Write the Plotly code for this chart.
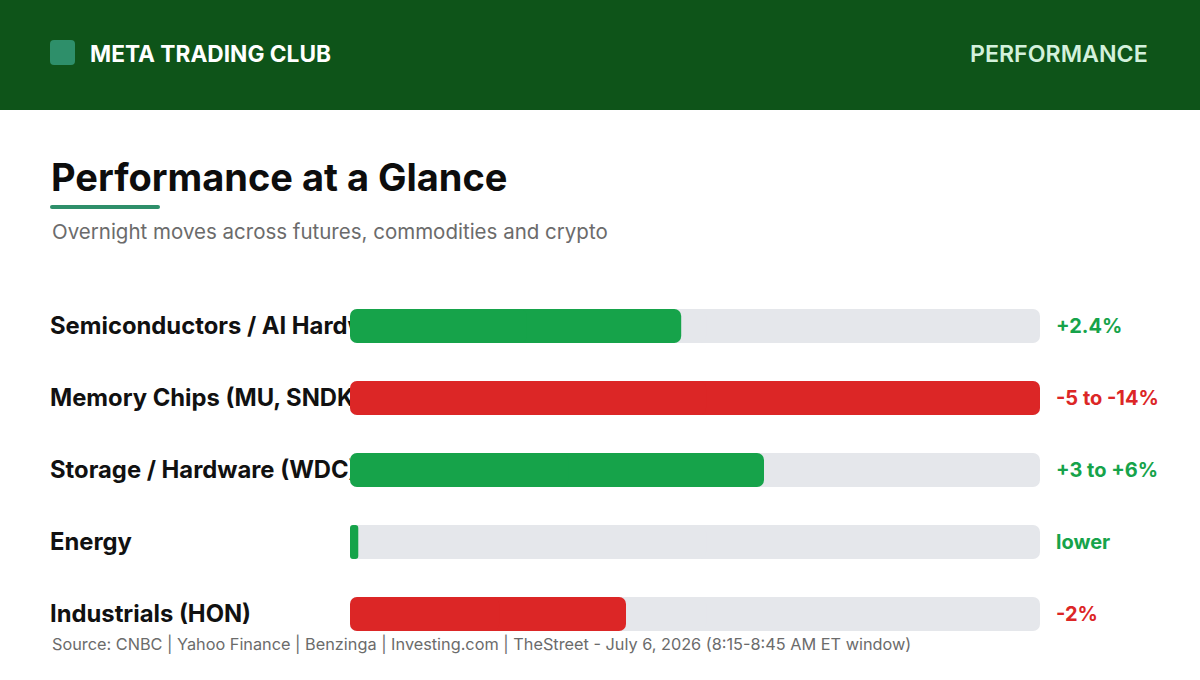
import plotly.graph_objects as go

W, H = 1200, 680

categories = ["Semiconductors / AI Hardware", "Memory Chips (MU, SNDK)", "Storage / Hardware (WDC)", "Energy", "Industrials (HON)"]
magnitudes = [2.4, 5.0, 3.0, 0.06, 2.0]   # bar fill, capped at scale max
scale_max = 5.0
value_labels = ["+2.4%", "-5 to -14%", "+3 to +6%", "lower", "-2%"]
directions = ["up", "down", "up", "up", "down"]

GREEN = "#16A34A"
RED = "#DC2626"
TRACK = "#E5E7EB"
HEADER = "#0E5419"
ACCENT = "#2E8F6A"
FONT = "Inter"

colors = [GREEN if d == "up" else RED for d in directions]
rows = list(range(len(categories)))
text_rows = [r + 0.03 for r in rows]


def px(x):
    return x / W


def py(y):
    return 1 - y / H


def rrect(x0, y0, x1, y1, r):
    pts = [
        f"M{px(x0 + r)},{py(y0)}",
        f"L{px(x1 - r)},{py(y0)}",
        f"Q{px(x1)},{py(y0)} {px(x1)},{py(y0 + r)}",
        f"L{px(x1)},{py(y1 - r)}",
        f"Q{px(x1)},{py(y1)} {px(x1 - r)},{py(y1)}",
        f"L{px(x0 + r)},{py(y1)}",
        f"Q{px(x0)},{py(y1)} {px(x0)},{py(y1 - r)}",
        f"L{px(x0)},{py(y0 + r)}",
        f"Q{px(x0)},{py(y0)} {px(x0 + r)},{py(y0)}",
        "Z",
    ]
    return " ".join(pts)


ydom = [py(650), py(290)]
bar_w = 34 / 72

fig = go.Figure()

# Labels subplot (drawn first, so the bars cover long labels)
fig.add_trace(go.Scatter(
    x=[50] * len(categories), y=text_rows, text=categories, mode="text",
    textposition="middle right",
    textfont=dict(family=FONT, size=23.8, color="#111111", weight=700),
    xaxis="x", yaxis="y", hoverinfo="skip", cliponaxis=False, showlegend=False,
))
fig.add_trace(go.Scatter(
    x=[1056] * len(categories), y=text_rows, text=value_labels, mode="text",
    textposition="middle right",
    textfont=dict(family=FONT, size=20, color=colors, weight=700),
    xaxis="x", yaxis="y", hoverinfo="skip", cliponaxis=False, showlegend=False,
))


def rounded_bar(values, color):
    # two overlapping pieces, one rounded at each end, so both ends of the bar are rounded
    ov = [min(0.08, v / 4) for v in values]
    fig.add_trace(go.Bar(
        x=[v / 2 + d for v, d in zip(values, ov)], base=[v / 2 - d for v, d in zip(values, ov)],
        y=rows, orientation="h", width=bar_w,
        marker=dict(color=color, cornerradius=7, line=dict(width=0)),
        xaxis="x2", yaxis="y2", hoverinfo="skip", showlegend=False,
    ))
    fig.add_trace(go.Bar(
        x=[-(v / 2 + d) for v, d in zip(values, ov)], base=[v / 2 + d for v, d in zip(values, ov)],
        y=rows, orientation="h", width=bar_w,
        marker=dict(color=color, cornerradius=7, line=dict(width=0)),
        xaxis="x2", yaxis="y2", hoverinfo="skip", showlegend=False,
    ))


rounded_bar([scale_max] * len(categories), TRACK)
rounded_bar(magnitudes, colors)

hidden = dict(showgrid=False, zeroline=False, showticklabels=False, ticks="", showline=False, fixedrange=True)

shapes = [
    dict(type="rect", xref="paper", yref="paper", x0=0, x1=1, y0=py(110), y1=1,
         fillcolor=HEADER, line=dict(width=0), layer="below"),
    dict(type="path", xref="paper", yref="paper", path=rrect(50, 40, 75, 65, 4),
         fillcolor=ACCENT, line=dict(width=0), layer="below"),
    dict(type="path", xref="paper", yref="paper", path=rrect(50, 205, 160, 209, 2),
         fillcolor=ACCENT, line=dict(width=0), layer="below"),
]

annotations = [
    dict(text="META TRADING CLUB", x=px(88), y=py(54), xref="paper", yref="paper",
         xanchor="left", yanchor="middle", showarrow=False,
         font=dict(family=FONT, size=22.7, color="#FFFFFF", weight=700)),
    dict(text="PERFORMANCE", x=px(1150), y=py(54), xref="paper", yref="paper",
         xanchor="right", yanchor="middle", showarrow=False,
         font=dict(family=FONT, size=23.2, color="#D3F1DC", weight=600)),
    dict(text="Performance at a Glance", x=px(49), y=py(177), xref="paper", yref="paper",
         xanchor="left", yanchor="middle", showarrow=False,
         font=dict(family=FONT, size=38, color="#0D0D0D", weight=700)),
    dict(text="Overnight moves across futures, commodities and crypto", x=px(50), y=py(231),
         xref="paper", yref="paper", xanchor="left", yanchor="middle", showarrow=False,
         font=dict(family=FONT, size=20.5, color="#6B6B6B")),
    dict(text="Source: CNBC | Yahoo Finance | Benzinga | Investing.com | TheStreet - July 6, 2026 (8:15-8:45 AM ET window)",
         x=px(50), y=py(644), xref="paper", yref="paper", xanchor="left", yanchor="middle",
         showarrow=False, font=dict(family=FONT, size=16.3, color="#6B6B6B")),
]

fig.update_layout(
    width=W, height=H, margin=dict(l=0, r=0, t=0, b=0),
    paper_bgcolor="#FFFFFF", plot_bgcolor="rgba(0,0,0,0)",
    barmode="overlay", showlegend=False,
    xaxis=dict(domain=[0, 1], range=[0, W], **hidden),
    yaxis=dict(domain=ydom, range=[4.5, -0.5], **hidden),
    xaxis2=dict(domain=[px(350), px(1040)], range=[0, scale_max], anchor="y2", **hidden),
    yaxis2=dict(domain=ydom, range=[4.5, -0.5], anchor="x2", **hidden),
    shapes=shapes, annotations=annotations,
)

fig.write_html("out.html", config={"displayModeBar": False})
